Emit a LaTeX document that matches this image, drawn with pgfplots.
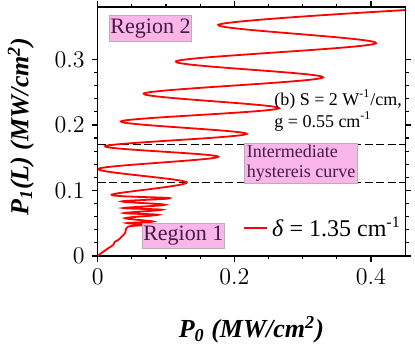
\documentclass[border=0pt]{standalone}
\usepackage{pgfplots}
\pgfplotsset{compat=1.18}
\usepackage{fontspec}
\setmainfont{Liberation Serif}
\definecolor{boxpink}{RGB}{250,182,232}
\definecolor{boxtext}{RGB}{70,25,70}

\begin{document}
\begin{tikzpicture}
\begin{axis}[
    scale only axis,
    width=153.7pt, height=124.5pt,
    xmin=0, xmax=0.45, ymin=0, ymax=0.38,
    xtick={0,0.2,0.4}, ytick={0,0.1,0.2,0.3},
    minor x tick num=3, minor y tick num=4,
    tick align=outside,
    major tick length=3pt, minor tick length=1.7pt,
    axis line style={line width=0.6pt},
    every tick/.style={black, line width=0.6pt},
    tick label style={font=\fontsize{12}{14}\selectfont},
    scaled ticks=false,
    xlabel={\bfseries\itshape P\textsubscript{0} (MW/cm\textsuperscript{2})},
    ylabel={\bfseries\itshape P\textsubscript{1}(L) (MW/cm\textsuperscript{2})},
    xlabel style={at={(axis description cs:0.5,-0.297)}, anchor=center, font=\fontsize{13}{15}\selectfont},
    ylabel style={at={(axis description cs:-0.25,0.52)}, anchor=center, rotate=0, font=\fontsize{13}{15}\selectfont},
    legend style={draw=none, fill=none, at={(axis cs:0.212,0.0425)}, anchor=west,
        inner sep=0pt, font=\fontsize{12}{14}\selectfont},
    legend image code/.code={\draw[#1] (0pt,0pt) -- (11.7pt,0pt);},
]

% intermediate hysteresis limits
\addplot[black, dashed, line width=0.7pt, dash pattern=on 4pt off 1.8pt, forget plot]
    coordinates {(0,0.170) (0.45,0.170)};
\addplot[black, dashed, line width=0.7pt, dash pattern=on 4pt off 1.8pt, forget plot]
    coordinates {(0,0.112) (0.45,0.112)};

% transmitted vs input power, delta = 1.35
\addplot[red, line width=0.9pt, smooth, tension=0.5] coordinates {
    (0,0) (0.0082,0.0066) (0.0155,0.0118) (0.0228,0.0169) (0.0253,0.0219)
    (0.0302,0.0245) (0.0351,0.0296) (0.0400,0.0348) (0.0448,0.0449)
    (0.0741,0.0475) (0.0425,0.0502) (0.0814,0.0526) (0.0400,0.0578)
    (0.0887,0.0629) (0.0389,0.0655) (0.0937,0.0706) (0.0375,0.0732)
    (0.0985,0.0782) (0.0351,0.0833) (0.1059,0.0882) (0.0205,0.0936)
    (0.1303,0.1124) (0.0009,0.1330) (0.1766,0.1514) (0.0107,0.1676)
    (0.2182,0.1863) (0.0341,0.2055) (0.2654,0.2255) (0.0675,0.2480)
    (0.3299,0.2725) (0.1146,0.2971) (0.4075,0.3247) (0.1766,0.3528)
    (0.47,0.3765)
};
\legend{\textit{δ} = 1.35 cm\textsuperscript{-1}}

\node[fill=boxpink, draw=gray!60, text=boxtext, inner sep=0.5pt, minimum height=12.8pt,
    font=\fontsize{11}{13}\selectfont] at (axis cs:0.0773,0.3474) {Region 2};
\node[fill=boxpink, draw=gray!60, text=boxtext, inner sep=0.5pt, minimum height=12.5pt,
    font=\fontsize{11}{13}\selectfont] at (axis cs:0.1253,0.031) {Region 1};
\node[fill=boxpink, draw=gray!60, text=boxtext, inner sep=1pt, align=left,
    font=\fontsize{9}{10}\selectfont] at (axis cs:0.2977,0.1414) {Intermediate\\hystereis curve};
\node[anchor=west, align=left, inner sep=0pt, font=\fontsize{9}{11}\selectfont]
    at (axis cs:0.258,0.2224) {(b) S = 2 W\textsuperscript{-1}/cm,\\g = 0.55 cm\textsuperscript{-1}};
\end{axis}
\pgfresetboundingbox
\path[use as bounding box] (current axis.south west) ++(-48.85pt,-48.5pt) rectangle ++(207.5pt,176.5pt);
\end{tikzpicture}
\end{document}
